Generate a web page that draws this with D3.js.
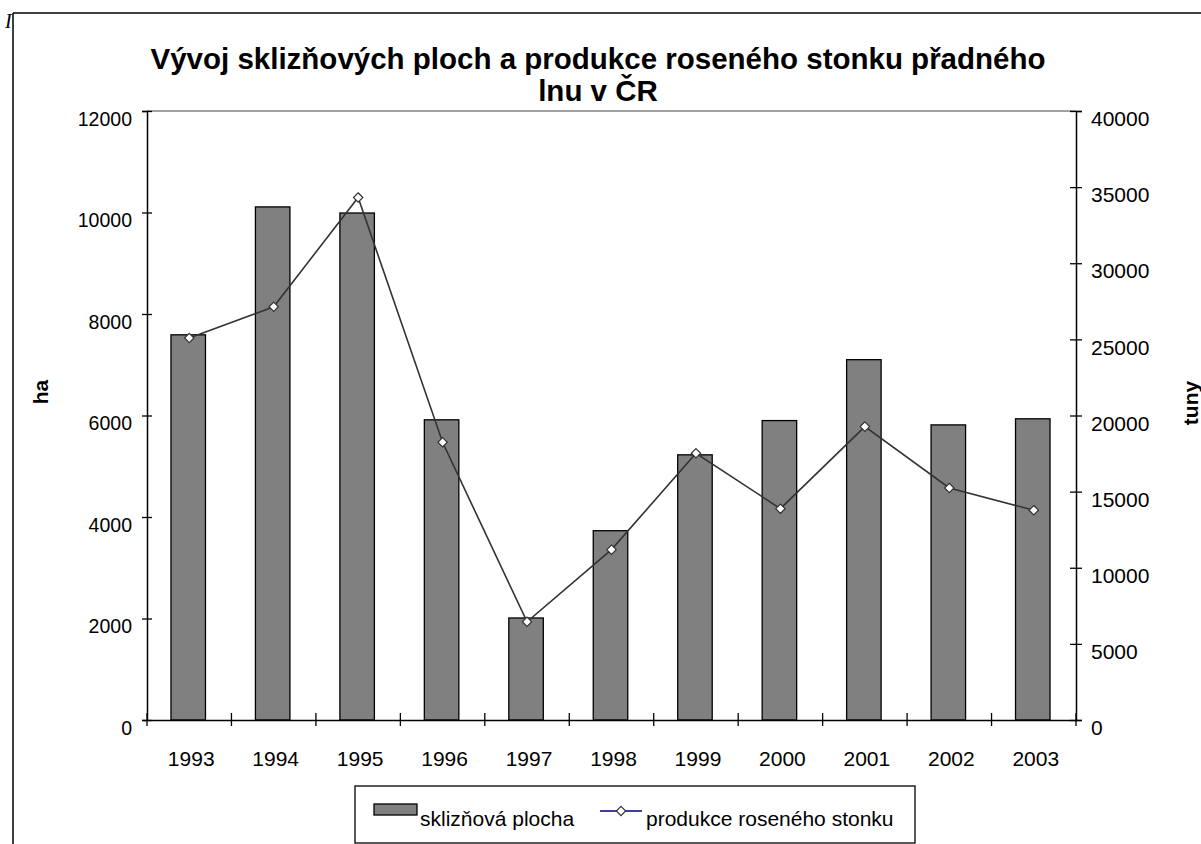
<!DOCTYPE html>
<html>
<head>
<meta charset="utf-8">
<script src="https://cdn.jsdelivr.net/npm/d3@7"></script>
<style>
  body { margin: 0; background: #fff; }
  svg { display: block; font-family: "Liberation Sans", Arial, sans-serif; }
</style>
</head>
<body>
<svg width="1201" height="844"></svg>
<script>
var years = ["1993", "1994", "1995", "1996", "1997", "1998", "1999", "2000", "2001", "2002", "2003"];
var plocha = [7590, 10110, 9990, 5915, 2010, 3730, 5225, 5900, 7100, 5815, 5935];
var produkce = [25090, 27140, 34320, 18240, 6450, 11190, 17520, 13880, 19270, 15240, 13780];
var leftTicks = [0, 2000, 4000, 6000, 8000, 10000, 12000];
var rightTicks = [0, 5000, 10000, 15000, 20000, 25000, 30000, 35000, 40000];

var svg = d3.select("svg");

var x = d3.scaleBand().domain(years).range([147, 1076]).padding(0);
var yL = d3.scaleLinear().domain([0, 12000]).range([720, 111]);
var yR = d3.scaleLinear().domain([0, 40000]).range([720, 111]);

// outer frame
svg.append("line").attr("x1", 13).attr("x2", 1201).attr("y1", 13).attr("y2", 13)
  .attr("stroke", "#000").attr("stroke-width", 1.5);
svg.append("line").attr("x1", 13).attr("x2", 13).attr("y1", 13).attr("y2", 844)
  .attr("stroke", "#000").attr("stroke-width", 1.5);
svg.append("text").attr("x", 5).attr("y", 28)
  .attr("font-family", "Liberation Serif, serif").attr("font-style", "italic")
  .attr("font-size", 20).text("I");

// title
var title = svg.append("text").attr("text-anchor", "middle")
  .attr("font-weight", "bold").attr("font-size", 29.5);
title.append("tspan").attr("x", 598).attr("y", 69)
  .text("Vývoj sklizňových ploch a produkce roseného stonku přadného");
title.append("tspan").attr("x", 598).attr("y", 101).text("lnu v ČR");

// plot top border
svg.append("line").attr("x1", 147).attr("x2", 1076).attr("y1", 111).attr("y2", 111)
  .attr("stroke", "#808080").attr("stroke-width", 1.5);

// bars
var bw = 34.5;
svg.append("g").selectAll("rect")
  .data(years)
  .enter().append("rect")
  .attr("x", (d) => x(d) + x.bandwidth() / 2 - bw / 2 - 1)
  .attr("y", (d, i) => yL(plocha[i]))
  .attr("width", bw)
  .attr("height", (d, i) => yL(0) - yL(plocha[i]))
  .attr("fill", "#808080")
  .attr("stroke", "#000")
  .attr("stroke-width", 1.3);

// left axis
var gl = svg.append("g").attr("transform", "translate(147,0)")
  .call(d3.axisLeft(yL).tickValues(leftTicks).tickSize(5).tickFormat(d3.format("d")));
gl.select(".domain").attr("stroke", "#000").attr("stroke-width", 1.5);
gl.selectAll(".tick line").attr("x1", 5).attr("x2", -5).attr("stroke-width", 1.3);
gl.selectAll(".tick text").attr("x", -15).attr("dy", "0.72em")
  .attr("font-size", 19.5).attr("font-family", null).attr("fill", "#000");

// right axis
var gr = svg.append("g").attr("transform", "translate(1076,0)")
  .call(d3.axisRight(yR).tickValues(rightTicks).tickSize(6).tickFormat(d3.format("d")));
gr.select(".domain").attr("stroke", "#000").attr("stroke-width", 1.5);
gr.selectAll(".tick line").attr("x1", -6).attr("x2", 6).attr("stroke-width", 1.3);
gr.selectAll(".tick text").attr("x", 15).attr("dy", "0.7em")
  .attr("font-size", 21).attr("font-family", null).attr("fill", "#000");

// bottom axis
var gb = svg.append("g").attr("transform", "translate(0,720)")
  .call(d3.axisBottom(x).tickSize(0));
gb.select(".domain").attr("stroke", "#000").attr("stroke-width", 1.5);
gb.selectAll(".tick text").attr("y", 46).attr("dy", 0).attr("dx", 2)
  .attr("font-size", 21).attr("font-family", null).attr("fill", "#000");
var bounds = years.map((d) => x(d)).concat([x.range()[1]]);
gb.selectAll(".bound").data(bounds).enter().append("line")
  .attr("class", "bound")
  .attr("x1", (d) => d).attr("x2", (d) => d)
  .attr("y1", -7).attr("y2", 6)
  .attr("stroke", "#000").attr("stroke-width", 1.3);

// axis titles
svg.append("text").attr("transform", "translate(48,392) rotate(-90)")
  .attr("text-anchor", "middle").attr("font-weight", "bold").attr("font-size", 21).text("ha");
svg.append("text").attr("transform", "translate(1198,403) rotate(-90)")
  .attr("text-anchor", "middle").attr("font-weight", "bold").attr("font-size", 21).text("tuny");

// line series
var cx = (d) => x(d) + x.bandwidth() / 2;
var line = d3.line()
  .x((d, i) => cx(years[i]))
  .y((d) => yR(d));
svg.append("path").datum(produkce)
  .attr("d", line)
  .attr("fill", "none")
  .attr("stroke", "#333")
  .attr("stroke-width", 1.6);

var diamond = d3.symbol().type(d3.symbolDiamond2).size(56);
svg.append("g").selectAll("path")
  .data(produkce)
  .enter().append("path")
  .attr("transform", (d, i) => "translate(" + cx(years[i]) + "," + yR(d) + ")")
  .attr("d", diamond)
  .attr("fill", "#fff")
  .attr("stroke", "#333")
  .attr("stroke-width", 1.2);

// legend
var lg = svg.append("g");
lg.append("rect").attr("x", 355).attr("y", 786).attr("width", 560).attr("height", 57)
  .attr("fill", "#fff").attr("stroke", "#000").attr("stroke-width", 1.3);
lg.append("rect").attr("x", 374).attr("y", 804).attr("width", 43).attr("height", 11)
  .attr("fill", "#808080").attr("stroke", "#000").attr("stroke-width", 1.3);
lg.append("text").attr("x", 420).attr("y", 826).attr("font-size", 21).text("sklizňová plocha");
lg.append("line").attr("x1", 600).attr("x2", 642).attr("y1", 811).attr("y2", 811)
  .attr("stroke", "#000080").attr("stroke-width", 1.5);
lg.append("path").attr("transform", "translate(621,811)").attr("d", diamond)
  .attr("fill", "#fff").attr("stroke", "#333").attr("stroke-width", 1.2);
lg.append("text").attr("x", 646).attr("y", 826).attr("font-size", 21).text("produkce roseného stonku");
</script>
</body>
</html>
